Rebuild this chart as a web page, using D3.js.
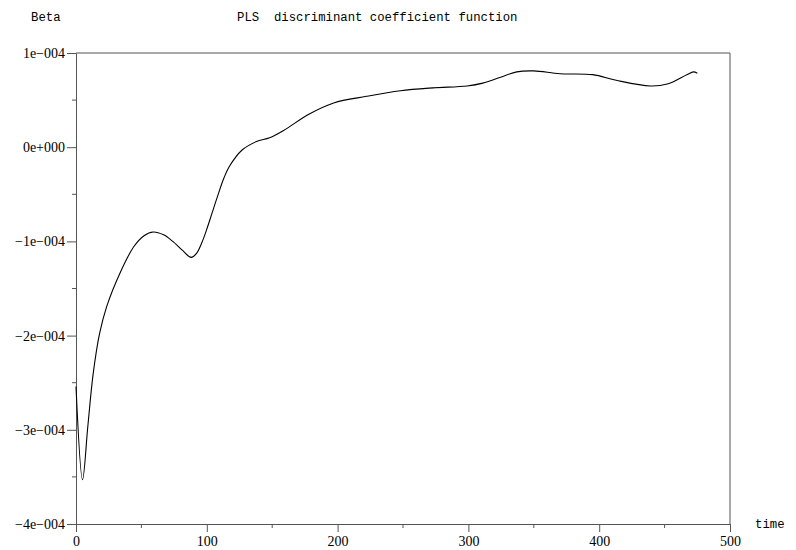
<!DOCTYPE html>
<html>
<head>
<meta charset="utf-8">
<script src="https://cdn.jsdelivr.net/npm/d3@7"></script>
<style>
  html, body { margin: 0; padding: 0; background: #fff; }
  svg { display: block; }
</style>
</head>
<body>
<svg id="chart" width="796" height="550"></svg>
<script>
// PLS discriminant coefficient function, Beta(t)
const time = [0, 5, 9, 13, 18, 23.5, 33.5, 44, 52, 59, 67, 74, 81, 88, 92, 96, 100, 104, 108, 113, 117, 127, 138, 148, 159, 178, 197, 222, 248, 273, 299, 311, 324, 337, 350, 370, 395, 413, 439, 452, 467, 472, 475];
const beta = [-2.54e-4, -3.53e-4, -2.97e-4, -2.42e-4, -1.98e-4, -1.69e-4, -1.34e-4, -1.06e-4, -0.94e-4, -0.90e-4, -0.93e-4, -1.00e-4, -1.09e-4, -1.17e-4, -1.13e-4, -1.02e-4, -0.87e-4, -0.70e-4, -0.53e-4, -0.33e-4, -0.21e-4, -0.03e-4, 0.06e-4, 0.10e-4, 0.18e-4, 0.35e-4, 0.47e-4, 0.54e-4, 0.60e-4, 0.63e-4, 0.65e-4, 0.68e-4, 0.74e-4, 0.80e-4, 0.81e-4, 0.78e-4, 0.77e-4, 0.71e-4, 0.65e-4, 0.67e-4, 0.77e-4, 0.80e-4, 0.785e-4];
const xTicks = [0, 100, 200, 300, 400, 500];
const xMinor = [50, 150, 250, 350, 450];
const yTicks = [1e-4, 0, -1e-4, -2e-4, -3e-4, -4e-4];
const yTickLabels = ["1e\u2212004", "0e+000", "\u22121e\u2212004", "\u22122e\u2212004", "\u22123e\u2212004", "\u22124e\u2212004"];
const yMinor = [0.5e-4, -0.5e-4, -1.5e-4, -2.5e-4, -3.5e-4];

const svg = d3.select("#chart");
const plotLeft = 76, plotRight = 730, plotTop = 53, plotBottom = 524;
const axisColor = "#555";
const serif = "Liberation Serif, Times New Roman, serif";
const mono = "Liberation Mono, Courier New, monospace";

const x = d3.scaleLinear().domain([0, 500]).range([plotLeft, plotRight]);
const y = d3.scaleLinear().domain([-4e-4, 1e-4]).range([plotBottom, plotTop]);

// frame: top and right edges
svg.append("path")
  .attr("d", `M${plotLeft},${plotTop}H${plotRight}V${plotBottom}`)
  .attr("fill", "none").attr("stroke", axisColor).attr("stroke-width", 1);

// bottom axis
const xAxis = svg.append("g").attr("transform", `translate(0,${plotBottom})`)
  .call(d3.axisBottom(x).tickValues(xTicks).tickSize(8).tickSizeOuter(0).tickPadding(4)
    .tickFormat(d3.format("d")));
xAxis.attr("font-family", serif).attr("font-size", 14);
xAxis.selectAll("path, line").attr("stroke", axisColor);
xAxis.selectAll("text").attr("fill", "#000");
xAxis.selectAll(".minor").data(xMinor).enter().append("line")
  .attr("class", "minor")
  .attr("x1", d => x(d)).attr("x2", d => x(d)).attr("y1", 0).attr("y2", 4)
  .attr("stroke", axisColor);

// left axis
const yAxis = svg.append("g").attr("transform", `translate(${plotLeft},0)`)
  .call(d3.axisLeft(y).tickValues(yTicks).tickSize(9).tickSizeOuter(0).tickPadding(2)
    .tickFormat((d, i) => yTickLabels[i]));
yAxis.attr("font-family", serif).attr("font-size", 14);
yAxis.selectAll("path, line").attr("stroke", axisColor);
yAxis.selectAll("text").attr("fill", "#000");
yAxis.selectAll(".minor").data(yMinor).enter().append("line")
  .attr("class", "minor")
  .attr("x1", -4).attr("x2", 0).attr("y1", d => y(d)).attr("y2", d => y(d))
  .attr("stroke", axisColor);

// coefficient curve
const pts = time.map((t, i) => [t, beta[i]]);
svg.append("path")
  .datum(pts)
  .attr("fill", "none").attr("stroke", "#000").attr("stroke-width", 1.1)
  .attr("d", d3.line().x(d => x(d[0])).y(d => y(d[1])).curve(d3.curveCatmullRom.alpha(0.5)));

// titles
const label = (tx, ty, s) => svg.append("text")
  .attr("x", tx).attr("y", ty)
  .attr("font-family", mono).attr("font-size", 12.3).attr("fill", "#000")
  .style("white-space", "pre").text(s);
label(31, 21, "Beta");
label(237, 21, "PLS  discriminant coefficient function");
label(755, 528, "time");
</script>
</body>
</html>
